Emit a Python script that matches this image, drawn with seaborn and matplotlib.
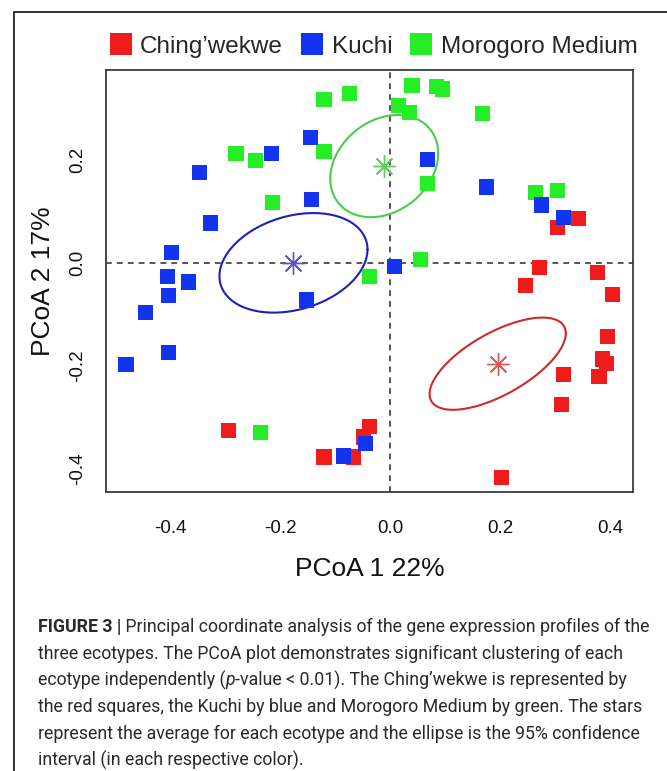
import numpy as np
import pandas as pd
import matplotlib
matplotlib.use('Agg')
import matplotlib.pyplot as plt
import seaborn as sns
from matplotlib import font_manager
from matplotlib.lines import Line2D

# PCoA scores
red_x = [-0.293, -0.120, -0.067, -0.038, -0.049, -0.045, 0.202, 0.271, 0.247, 0.305,
         0.342, 0.378, 0.405, 0.396, 0.387, 0.393, 0.380, 0.315, 0.311]
red_y = [-0.327, -0.378, -0.378, -0.319, -0.339, -0.352, -0.417, -0.008, -0.043, 0.070,
         0.086, -0.019, -0.062, -0.144, -0.187, -0.195, -0.222, -0.218, -0.275]
blue_x = [-0.145, -0.215, -0.347, -0.142, -0.327, -0.398, -0.405, -0.367, -0.402, -0.151,
          -0.444, -0.402, -0.480, -0.084, -0.045, 0.009, 0.069, 0.176, 0.275, 0.315]
blue_y = [0.245, 0.214, 0.177, 0.123, 0.078, 0.021, -0.027, -0.037, -0.064, -0.072,
          -0.097, -0.175, -0.197, -0.376, -0.351, -0.006, 0.201, 0.148, 0.113, 0.088]
green_x = [-0.120, -0.073, -0.120, -0.280, -0.244, -0.213, 0.040, 0.085, 0.096,
           0.015, 0.036, 0.169, 0.069, 0.264, 0.305, 0.056, -0.038, -0.236]
green_y = [0.319, 0.331, 0.218, 0.214, 0.199, 0.117, 0.345, 0.343, 0.339,
           0.306, 0.294, 0.292, 0.154, 0.138, 0.142, 0.006, -0.027, -0.331]

groups = ['Ching\u2019wekwe', 'Kuchi', 'Morogoro Medium']
x_ticks = [-0.4, -0.2, 0.0, 0.2, 0.4]
y_ticks = [-0.4, -0.2, 0.0, 0.2]
x_label = 'PCoA 1 22%'
y_label = 'PCoA 2 17%'

point_cols = {'Ching\u2019wekwe': '#f01c1c', 'Kuchi': '#1234ee', 'Morogoro Medium': '#26ee26'}
ell_cols = {'Ching\u2019wekwe': '#cc2b2b', 'Kuchi': '#1c22b4', 'Morogoro Medium': '#4ccc4c'}
star_cols = {'Ching\u2019wekwe': '#e25a5a', 'Kuchi': '#5656d6', 'Morogoro Medium': '#56d456'}

caption = [
    [('FIGURE 3 |', 'bold', 'normal'),
     (' Principal coordinate analysis of the gene expression profiles of the', 'normal', 'normal')],
    [('three ecotypes. The PCoA plot demonstrates significant clustering of each', 'normal', 'normal')],
    [('ecotype independently (', 'normal', 'normal'), ('p', 'normal', 'italic'),
     ('-value < 0.01). The Ching\u2019wekwe is represented by', 'normal', 'normal')],
    [('the red squares, the Kuchi by blue and Morogoro Medium by green. The stars', 'normal', 'normal')],
    [('represent the average for each ecotype and the ellipse is the 95% confidence', 'normal', 'normal')],
    [('interval (in each respective color).', 'normal', 'normal')],
]

# red first, then green, blue on top (as in the original drawing order)
df = pd.concat([
    pd.DataFrame({'pc1': red_x, 'pc2': red_y, 'ecotype': groups[0]}),
    pd.DataFrame({'pc1': green_x, 'pc2': green_y, 'ecotype': groups[2]}),
    pd.DataFrame({'pc1': blue_x, 'pc2': blue_y, 'ecotype': groups[1]}),
], ignore_index=True)

sns.set_style('white')
plt.rcParams['font.family'] = ['Liberation Sans', 'DejaVu Sans']

W, H = 667, 771
fig = plt.figure(figsize=(W / 100, H / 100), dpi=100)
ax = fig.add_axes([106 / W, 1 - 492 / H, 527 / W, 422 / H])

ax.axhline(0, color='#555555', lw=1.4, ls=(0, (3, 2.6)), zorder=1)
ax.axvline(0, color='#555555', lw=1.4, ls=(0, (3, 2.6)), zorder=1)

sns.scatterplot(data=df, x='pc1', y='pc2', hue='ecotype', hue_order=groups,
                palette=point_cols, marker='s', s=118, linewidth=0, alpha=1,
                ax=ax, zorder=3)

# group means (stars) and 95% confidence ellipses of the mean
t = np.linspace(0, 2 * np.pi, 300)
circle = np.vstack([np.cos(t), np.sin(t)])
for g in groups:
    sub = df[df['ecotype'] == g]
    xy = sub[['pc1', 'pc2']].to_numpy().T
    m = xy.mean(axis=1)
    cov = np.cov(xy) / xy.shape[1]
    L = np.linalg.cholesky(cov)
    ell = m[:, None] + np.sqrt(5.991) * (L @ circle)
    ax.plot(ell[0], ell[1], color=ell_cols[g], lw=1.5, zorder=2)
    ax.plot(m[0], m[1], marker=(8, 2, 0), ms=16, mew=1.0, color=star_cols[g],
            ls='none', zorder=4)

x0, xs = 390, 550.0
y0, ys = 263, 513.3
ax.set_xlim((106 - x0) / xs, (633 - x0) / xs)
ax.set_ylim((y0 - 492) / ys, (y0 - 70) / ys)
ax.set_xticks(x_ticks)
ax.set_yticks(y_ticks)
ax.set_xticklabels([f'{v:.1f}' for v in x_ticks])
ax.set_yticklabels([f'{v:.1f}' for v in y_ticks])
ax.tick_params(direction='out', length=7.5, width=1.0, color='#333333',
               labelsize=13.5, labelcolor='#111111')
ax.tick_params(axis='x', pad=13)
ax.tick_params(axis='y', pad=7, labelrotation=90)
for lab in ax.get_yticklabels():
    lab.set_va('center')
for sp in ax.spines.values():
    sp.set_color('#3c3c3c')
    sp.set_linewidth(1.3)

ax.set_xlabel(x_label, fontsize=19, labelpad=14, color='#111111')
ax.set_ylabel(y_label, fontsize=19, labelpad=10, color='#111111')

sns.move_legend(ax, 'center', bbox_to_anchor=(0.508, 1.055), ncol=3, frameon=False,
                title=None, fontsize=17.5, markerscale=1.5, handlelength=0.9,
                handletextpad=0.35, columnspacing=0.75, borderaxespad=0)

# outer frame of the figure panel
fig.add_artist(Line2D([14 / W, 1], [1 - 12 / H, 1 - 12 / H], color='#222222', lw=1.3,
                      transform=fig.transFigure))
fig.add_artist(Line2D([14 / W, 14 / W], [1 - 12 / H, 0], color='#222222', lw=1.3,
                      transform=fig.transFigure))

# caption
names = {f.name for f in font_manager.fontManager.ttflist}
cap_font = 'Liberation Sans Narrow' if 'Liberation Sans Narrow' in names else 'Roboto'
renderer = fig.canvas.get_renderer()


def draw_line(parts, x, y, fs, keep=True):
    pieces = []
    for txt, weight, style in parts:
        tt = fig.text(x / W, 1 - y / H, txt, fontsize=fs, fontweight=weight, fontstyle=style,
                      family=[cap_font, 'DejaVu Sans'], color='#2a2a2a', va='baseline', ha='left')
        x += tt.get_window_extent(renderer).width
        pieces.append(tt)
    if not keep:
        for tt in pieces:
            tt.remove()
    return x


fs0 = 14
end = draw_line(caption[0], 38, 632, fs0, keep=False)
fs = fs0 * 616 / (end - 38)
for i, parts in enumerate(caption):
    draw_line(parts, 38, 632 + 26.7 * i, fs)

fig.savefig('out.png', dpi=100)
